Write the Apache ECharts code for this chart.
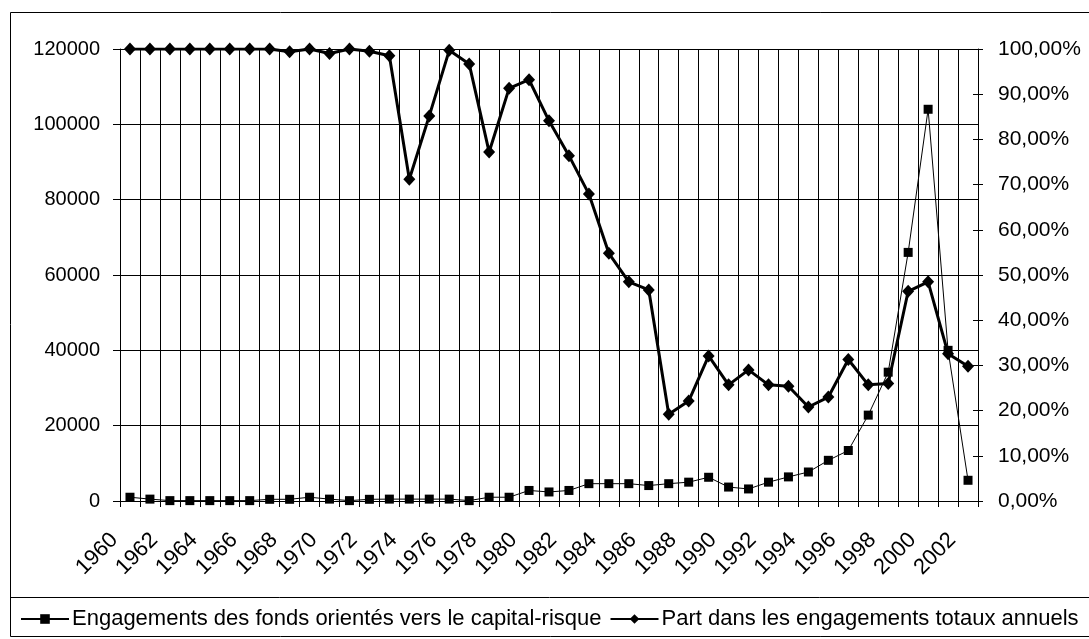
<!DOCTYPE html>
<html>
<head>
<meta charset="utf-8">
<script src="https://cdn.jsdelivr.net/npm/echarts@6/dist/echarts.min.js"></script>
<style>
html,body{margin:0;padding:0;background:#fff;}
#chart{width:1089px;height:639px;}
</style>
</head>
<body>
<div id="chart"></div>
<script>
const years = ['1960','1961','1962','1963','1964','1965','1966','1967','1968','1969','1970','1971','1972','1973','1974','1975','1976','1977','1978','1979','1980','1981','1982','1983','1984','1985','1986','1987','1988','1989','1990','1991','1992','1993','1994','1995','1996','1997','1998','1999','2000','2001','2002'];
const engagements = [1000,500,100,100,100,100,100,450,450,1000,500,100,450,500,500,500,500,100,1000,1000,2800,2400,2800,4600,4600,4600,4100,4600,5000,6300,3700,3200,5000,6400,7700,10800,13400,22800,34200,66000,104000,40000,5500];
const partPct = [100,100,100,100,100,100,100,100,99.4,100,99.0,100,99.5,98.5,71.2,85.2,99.7,96.7,77.2,91.3,93.2,84.1,76.4,67.9,54.8,48.5,46.7,19.2,22.1,32.1,25.7,29.0,25.7,25.4,20.8,23.0,31.3,25.7,26.0,46.4,48.5,32.6,29.8];
const seriesNames = ['Engagements des fonds orientés vers le capital-risque','Part dans les engagements totaux annuels'];

const FONT = '"Liberation Sans", Arial, sans-serif';
const chart = echarts.init(document.getElementById('chart'), null, {renderer:'canvas'});
chart.setOption({
  backgroundColor:'#fff',
  animation:false,
  textStyle:{fontFamily:FONT,color:'#000'},
  graphic:[
    {type:'rect',silent:true,shape:{x:10.5,y:12.5,width:1090,height:624},style:{fill:null,stroke:'#000',lineWidth:1},z:-1},
    {type:'line',silent:true,shape:{x1:10,y1:597.5,x2:1089,y2:597.5},style:{stroke:'#000',lineWidth:1},z:-1}
  ],
  grid:{left:120,right:111,top:49,bottom:138,containLabel:false},
  legend:{
    left:15, top:603, itemGap:8, itemWidth:48, itemHeight:12,
    textStyle:{fontFamily:FONT,fontSize:22,color:'#000',padding:[0,0,0,-2]},
    data:seriesNames
  },
  xAxis:{
    type:'category', data:years, boundaryGap:true,
    axisLine:{lineStyle:{color:'#000',width:1}},
    axisTick:{show:true,alignWithLabel:false,interval:0,length:6,lineStyle:{color:'#000'}},
    axisLabel:{interval:1,rotate:45,margin:20,fontSize:22,fontFamily:FONT,color:'#000',padding:[0,22,0,0]},
    splitLine:{show:true,interval:0,lineStyle:{color:'#000',width:1}}
  },
  yAxis:[
    {type:'value',min:0,max:120000,interval:20000,position:'left',
     axisLine:{show:true,lineStyle:{color:'#000'}},
     axisTick:{show:true,length:7,lineStyle:{color:'#000'}},
     axisLabel:{margin:20,fontSize:20,fontFamily:FONT,color:'#000',formatter:v=>String(v)},
     splitLine:{show:true,lineStyle:{color:'#000',width:1}}},
    {type:'value',min:0,max:100,interval:10,position:'right',
     axisLine:{show:true,lineStyle:{color:'#000'}},
     axisTick:{show:true,length:5,lineStyle:{color:'#000'}},
     axisLabel:{margin:20,fontSize:21,fontFamily:FONT,color:'#000',
       formatter:v=>v.toFixed(2).replace('.',',')+'%'},
     splitLine:{show:false}},
    {type:'value',min:0,max:100,interval:10,position:'right',
     axisLine:{show:false},
     axisTick:{show:true,inside:true,length:5,lineStyle:{color:'#000'}},
     axisLabel:{show:false},
     splitLine:{show:false}}
  ],
  series:[
    {name:seriesNames[0],type:'line',yAxisIndex:0,data:engagements,
     symbol:'rect',symbolSize:9,showAllSymbol:true,z:4,
     lineStyle:{color:'#000',width:1},itemStyle:{color:'#000'}},
    {name:seriesNames[1],type:'line',yAxisIndex:1,data:partPct,
     symbol:'diamond',symbolSize:[12,13],showAllSymbol:true,z:3,
     lineStyle:{color:'#000',width:3},itemStyle:{color:'#000'}}
  ]
});
</script>
</body>
</html>
